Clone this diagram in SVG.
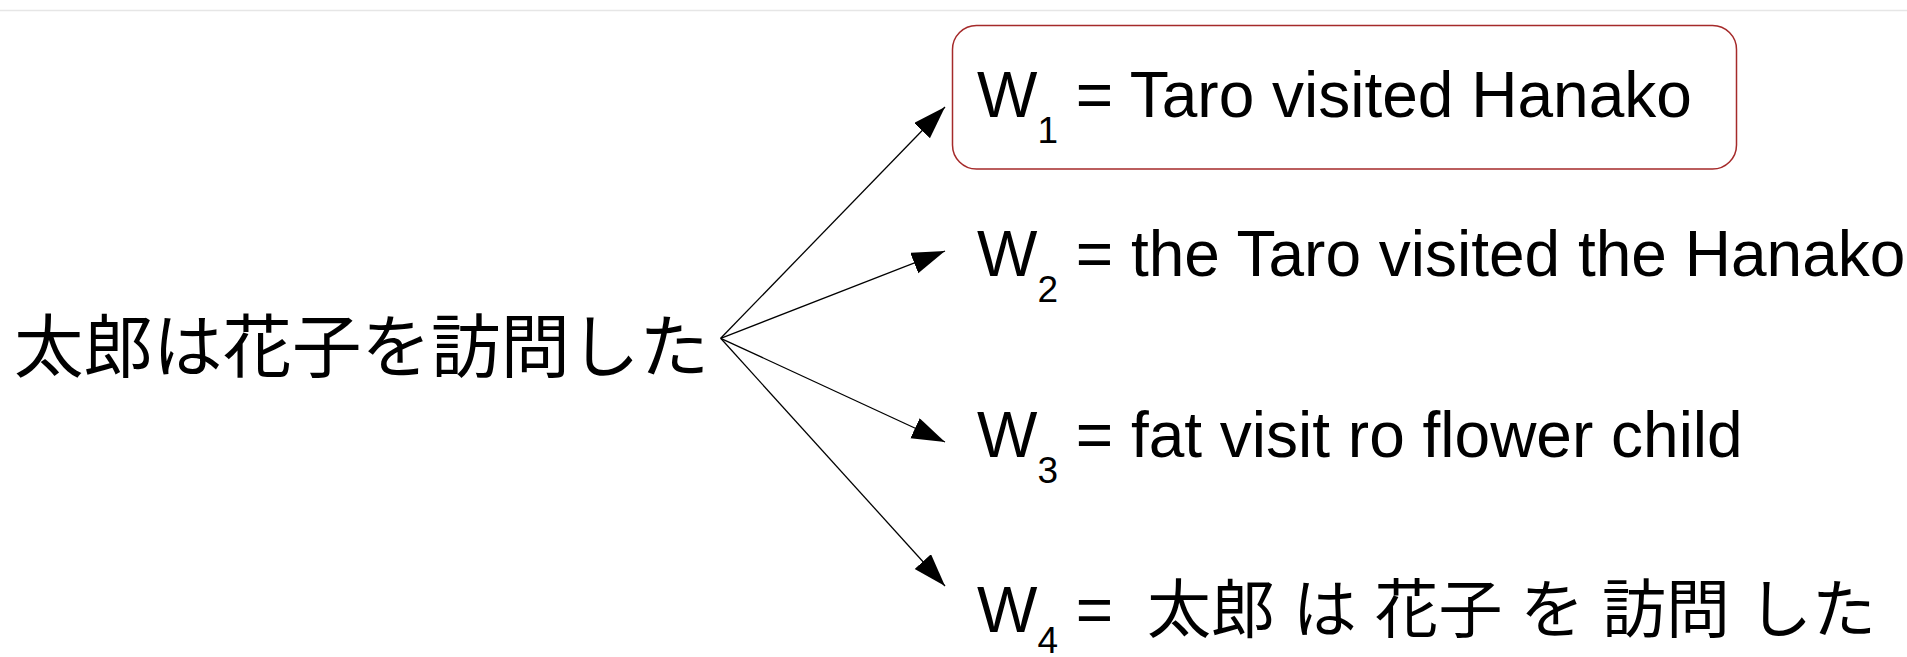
<svg xmlns="http://www.w3.org/2000/svg" width="1907" height="657" viewBox="0 0 1907 657">
<style>
.t{font-family:"Liberation Sans","Noto Sans CJK JP",sans-serif;font-size:64px;fill:#000}
.jp{font-family:"Noto Sans CJK JP",sans-serif;fill:#000}
.sub{font-size:37px}
.c{stroke:#000;stroke-width:1.3;fill:none;marker-end:url(#ah)}
</style>
<defs>
<marker id="ah" markerUnits="userSpaceOnUse" markerWidth="34" markerHeight="24" refX="33" refY="11" orient="auto">
<path d="M0,0 L33,11 L0,22 z" fill="#000"/>
</marker>
</defs>
<rect x="0" y="0" width="1907" height="657" fill="#fff"/>
<line x1="0" y1="10.5" x2="1907" y2="10.5" stroke="#e6e6e6" stroke-width="1.5"/>
<g id="source">
<text class="jp" x="14" y="372" font-size="69.5">太郎は花子を訪問した</text>
</g>
<g id="connectors">
<line class="c" x1="720.7" y1="338.3" x2="945" y2="107"/>
<line class="c" x1="720.7" y1="338.3" x2="945" y2="251"/>
<line class="c" x1="720.7" y1="338.3" x2="945" y2="442"/>
<line class="c" x1="720.7" y1="338.3" x2="945" y2="586"/>
</g>
<g id="w1">
<rect x="952.5" y="25.5" width="784" height="143.5" rx="24" ry="24" fill="none" stroke="#a52a2a" stroke-width="1.5"/>
<text class="t" x="977" y="117">W<tspan class="sub" dy="26">1</tspan><tspan dy="-26"> = Taro visited Hanako</tspan></text>
</g>
<g id="w2">
<text class="t" x="977" y="276">W<tspan class="sub" dy="26">2</tspan><tspan dy="-26"> = the Taro visited the Hanako</tspan></text>
</g>
<g id="w3">
<text class="t" x="977" y="457">W<tspan class="sub" dy="26">3</tspan><tspan dy="-26"> = fat visit ro flower child</tspan></text>
</g>
<g id="w4">
<text class="t" x="977" y="632">W<tspan class="sub" dy="21">4</tspan><tspan dy="-21"> = </tspan><tspan x="1147">太郎 は 花子 を 訪問 した</tspan></text>
</g>
</svg>
